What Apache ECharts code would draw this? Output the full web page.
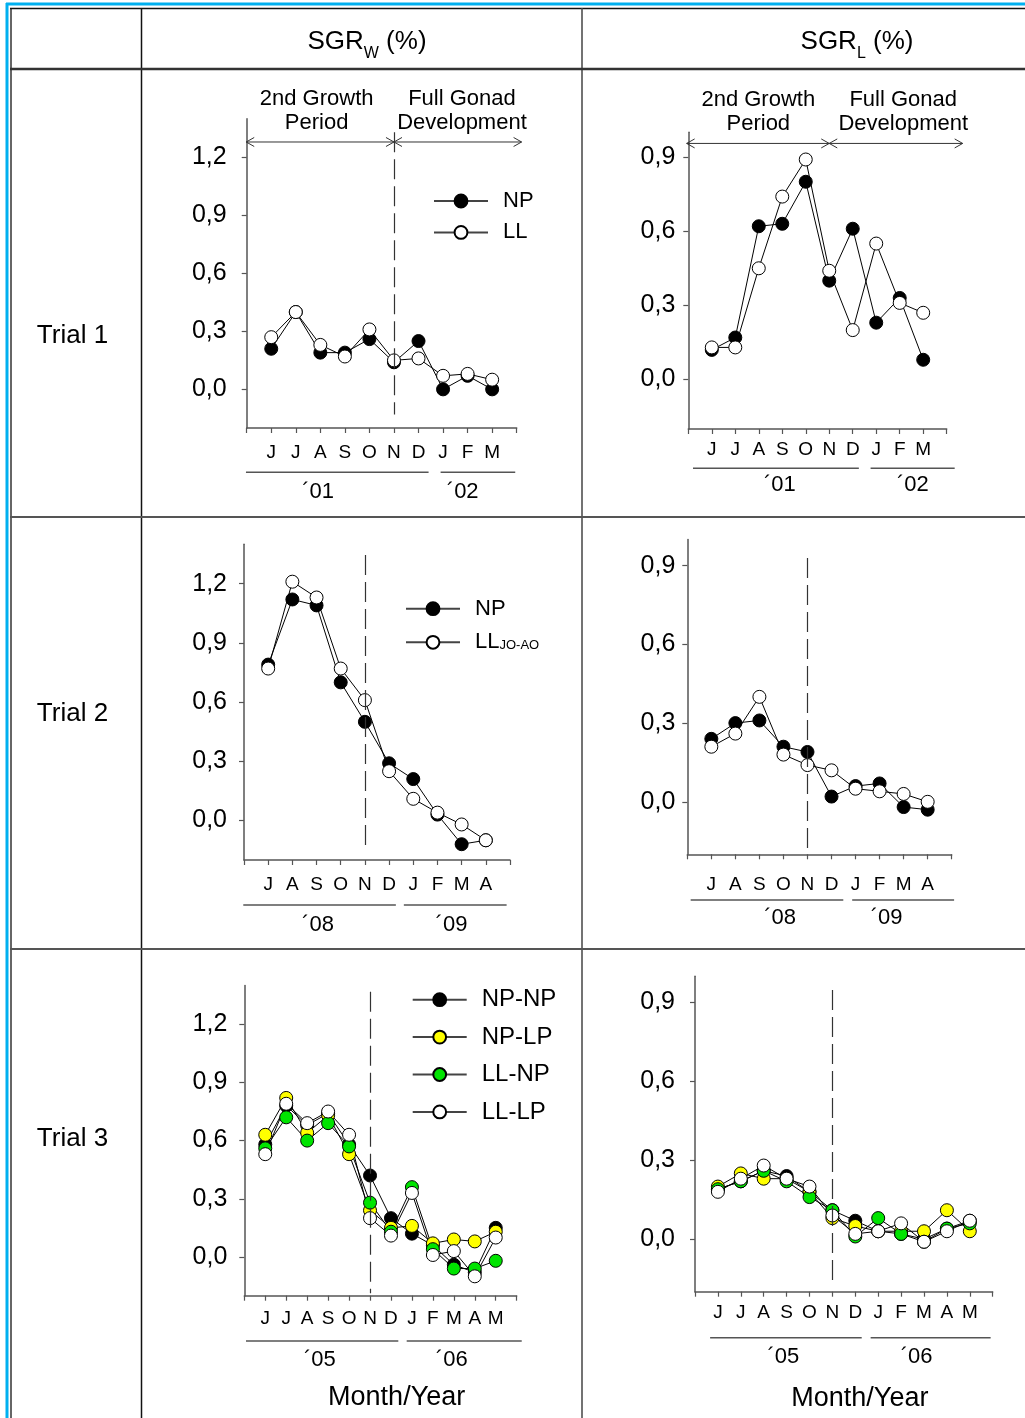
<!DOCTYPE html>
<html>
<head>
<meta charset="utf-8">
<script src="https://cdn.jsdelivr.net/npm/echarts@6/dist/echarts.min.js"></script>
<style>
html, body { margin: 0; padding: 0; background: #fff; }
#c { width: 1025px; height: 1418px; }
</style>
</head>
<body>
<div id="c"></div>
<script>
// Month letters along each trial's x axis
const monthsT1 = ['J', 'J', 'A', 'S', 'O', 'N', 'D', 'J', 'F', 'M'];
const monthsT2 = ['J', 'A', 'S', 'O', 'N', 'D', 'J', 'F', 'M', 'A'];
const monthsT3 = ['J', 'J', 'A', 'S', 'O', 'N', 'D', 'J', 'F', 'M', 'A', 'M'];

// Labelled y ticks
const yTicksW = [0, 0.3, 0.6, 0.9, 1.2];
const yTicksL = [0, 0.3, 0.6, 0.9];

// Trial 1 (2001-2002)
const t1wNP = [0.21, 0.40, 0.19, 0.19, 0.26, 0.14, 0.25, 0.00, 0.07, 0.00];
const t1wLL = [0.27, 0.40, 0.23, 0.17, 0.31, 0.15, 0.16, 0.07, 0.08, 0.05];
const t1lNP = [0.12, 0.17, 0.62, 0.63, 0.80, 0.40, 0.61, 0.23, 0.33, 0.08];
const t1lLL = [0.13, 0.13, 0.45, 0.74, 0.89, 0.44, 0.20, 0.55, 0.31, 0.27];

// Trial 2 (2008-2009)
const t2wNP = [0.79, 1.12, 1.09, 0.70, 0.50, 0.29, 0.21, 0.03, -0.12, -0.10];
const t2wLL = [0.77, 1.21, 1.13, 0.77, 0.61, 0.25, 0.11, 0.04, -0.02, -0.10];
const t2lNP = [0.24, 0.30, 0.31, 0.21, 0.19, 0.02, 0.06, 0.07, -0.02, -0.03];
const t2lLL = [0.21, 0.26, 0.40, 0.18, 0.14, 0.12, 0.05, 0.04, 0.03, 0.00];

// Trial 3 (2005-2006)
const t3wNPNP = [0.58, 0.78, 0.68, 0.74, 0.58, 0.42, 0.20, 0.12, 0.06, -0.04, -0.08, 0.15];
const t3wNPLP = [0.63, 0.82, 0.64, 0.73, 0.53, 0.24, 0.15, 0.16, 0.07, 0.09, 0.08, 0.13];
const t3wLLNP = [0.56, 0.72, 0.60, 0.69, 0.57, 0.28, 0.13, 0.36, 0.04, -0.06, -0.06, -0.02];
const t3wLLLP = [0.53, 0.79, 0.69, 0.75, 0.63, 0.20, 0.11, 0.33, 0.01, 0.03, -0.10, 0.10];
const t3lNPNP = [0.19, 0.22, 0.26, 0.24, 0.18, 0.11, 0.07, 0.03, 0.02, 0.00, 0.04, 0.07];
const t3lNPLP = [0.20, 0.25, 0.23, 0.23, 0.18, 0.08, 0.05, 0.03, 0.03, 0.03, 0.11, 0.03];
const t3lLLNP = [0.19, 0.22, 0.26, 0.22, 0.16, 0.11, 0.01, 0.08, 0.02, -0.01, 0.04, 0.06];
const t3lLLLP = [0.18, 0.23, 0.28, 0.23, 0.20, 0.09, 0.02, 0.03, 0.06, -0.01, 0.03, 0.07];

const FONT = '"Liberation Sans", Arial, sans-serif';
const AXIS = '#555';
const C_BLACK = '#000000', C_YELLOW = '#ffff00', C_GREEN = '#00e400', C_WHITE = '#ffffff';

// Panel layout: grid box, axis ranges and the annotations under/over each plot
const panels = [
  {
    grid: { left: 246.7, top: 118.8, width: 270, height: 309.2 },
    ymin: -0.2, ymax: 1.4, yticks: yTicksW, months: monthsT1, xmax: 11,
    yLabelMargin: 20, xLabelMargin: 15,
    series: [
      { name: 'NP', data: t1wNP, fill: C_BLACK },
      { name: 'LL', data: t1wLL, fill: C_WHITE }
    ],
    dash: { x: 6, y1: 1.33, y2: -0.13 },
    years: [{ text: '´01', from: -0.03, to: 7.41, at: 2.91 }, { text: '´02', from: 7.9, to: 10.94, at: 8.8 }],
    yearLineOff: 44.3, yearTextOff: 63.7,
    phases: { y: 1.28, x: [-0.02, 6, 11.2], leftAt: 2.85, rightAt: 8.77, rows: [99, 123] }
  },
  {
    grid: { left: 688.3, top: 132.3, width: 258.4, height: 296.7 },
    ymin: -0.2, ymax: 1.0, yticks: yTicksL, months: monthsT1, xmax: 11,
    yLabelMargin: 13, xLabelMargin: 11,
    series: [
      { name: 'NP', data: t1lNP, fill: C_BLACK },
      { name: 'LL', data: t1lLL, fill: C_WHITE }
    ],
    dash: { x: 6, y1: 1.02, y2: -0.19 },
    years: [{ text: '´01', from: 0.2, to: 7.26, at: 3.9 }, { text: '´02', from: 7.76, to: 11.34, at: 9.56 }],
    yearLineOff: 39.3, yearTextOff: 56,
    phases: { y: 0.955, x: [-0.07, 6, 11.68], leftAt: 2.98, rightAt: 9.15, rows: [100, 124] }
  },
  {
    grid: { left: 244, top: 544.2, width: 266, height: 315.8 },
    ymin: -0.2, ymax: 1.4, yticks: yTicksW, months: monthsT2, xmax: 11,
    yLabelMargin: 17, xLabelMargin: 15,
    series: [
      { name: 'NP', data: t2wNP, fill: C_BLACK },
      { name: 'LL_JO-AO', data: t2wLL, fill: C_WHITE }
    ],
    dash: { x: 5, y1: 1.345, y2: -0.132 },
    years: [{ text: '´08', from: -0.03, to: 6.28, at: 3.06 }, { text: '´09', from: 6.61, to: 10.86, at: 8.58 }],
    yearLineOff: 45, yearTextOff: 65
  },
  {
    grid: { left: 687.3, top: 539.4, width: 264.4, height: 314.9 },
    ymin: -0.2, ymax: 1.0, yticks: yTicksL, months: monthsT2, xmax: 11,
    yLabelMargin: 12, xLabelMargin: 21,
    series: [
      { name: 'NP', data: t2lNP, fill: C_BLACK },
      { name: 'LL_JO-AO', data: t2lLL, fill: C_WHITE }
    ],
    dash: { x: 5, y1: 0.929, y2: -0.176 },
    years: [{ text: '´08', from: 0.14, to: 6.49, at: 3.86 }, { text: '´09', from: 6.86, to: 11.1, at: 8.29 }],
    yearLineOff: 45.7, yearTextOff: 64
  },
  {
    grid: { left: 244.3, top: 985.5, width: 272.4, height: 310.2 },
    ymin: -0.2, ymax: 1.4, yticks: yTicksW, months: monthsT3, xmax: 13,
    yLabelMargin: 17, xLabelMargin: 14,
    series: [
      { name: 'NP-NP', data: t3wNPNP, fill: C_BLACK },
      { name: 'NP-LP', data: t3wNPLP, fill: C_YELLOW },
      { name: 'LL-NP', data: t3wLLNP, fill: C_GREEN },
      { name: 'LL-LP', data: t3wLLLP, fill: C_WHITE }
    ],
    dash: { x: 6, y1: 1.368, y2: -0.187 },
    years: [{ text: '´05', from: 0.08, to: 7.35, at: 3.61 }, { text: '´06', from: 7.75, to: 13.24, at: 9.9 }],
    yearLineOff: 45.3, yearTextOff: 64.3,
    footer: { at: 7.27, off: 102.3 }
  },
  {
    grid: { left: 695, top: 976.3, width: 297.7, height: 315.4 },
    ymin: -0.2, ymax: 1.0, yticks: yTicksL, months: monthsT3, xmax: 13,
    yLabelMargin: 20, xLabelMargin: 11.5,
    series: [
      { name: 'NP-NP', data: t3lNPNP, fill: C_BLACK },
      { name: 'NP-LP', data: t3lNPLP, fill: C_YELLOW },
      { name: 'LL-NP', data: t3lLLNP, fill: C_GREEN },
      { name: 'LL-LP', data: t3lLLLP, fill: C_WHITE }
    ],
    dash: { x: 6, y1: 0.948, y2: -0.156 },
    years: [{ text: '´05', from: 0.66, to: 7.28, at: 3.86 }, { text: '´06', from: 7.67, to: 12.91, at: 9.68 }],
    yearLineOff: 46, yearTextOff: 65,
    footer: { at: 7.2, off: 107 }
  }
];

const fmtTick = v => v.toFixed(1).replace('.', ',');

const grids = [], xAxes = [], yAxes = [], series = [];
panels.forEach((p, gi) => {
  grids.push(Object.assign({ outerBoundsMode: 'none', containLabel: false }, p.grid));
  xAxes.push({
    type: 'value', gridIndex: gi, min: 0, max: p.xmax, interval: 1,
    axisLine: { show: true, onZero: false, lineStyle: { color: AXIS, width: 1.5 } },
    axisTick: { show: true, length: 5, lineStyle: { color: AXIS, width: 1.2 } },
    axisLabel: {
      margin: p.xLabelMargin, fontSize: 19, color: '#000', fontFamily: FONT,
      formatter: v => p.months[v - 1] || ''
    },
    splitLine: { show: false }
  });
  yAxes.push({
    type: 'value', gridIndex: gi, min: p.ymin, max: p.ymax,
    axisLine: { show: true, onZero: false, lineStyle: { color: AXIS, width: 1.5 } },
    axisTick: { show: true, length: 5, customValues: p.yticks, lineStyle: { color: AXIS, width: 1.2 } },
    axisLabel: {
      customValues: p.yticks, margin: p.yLabelMargin, fontSize: 25, color: '#000',
      fontFamily: FONT, formatter: fmtTick
    },
    splitLine: { show: false }
  });
  p.series.forEach((s, si) => {
    const item = {
      type: 'line', name: s.name, xAxisIndex: gi, yAxisIndex: gi,
      data: s.data.map((v, i) => [i + 1, v]),
      symbol: 'circle', symbolSize: 13, showSymbol: true, clip: false,
      lineStyle: { color: '#000', width: 1 },
      itemStyle: { color: s.fill, borderColor: '#000', borderWidth: 1 },
      emphasis: { disabled: true },
      silent: true, animation: false
    };
    if (si === 0) {
      // dashed divider at November
      item.markLine = {
        silent: true, animation: false, symbol: ['none', 'none'],
        label: { show: false },
        lineStyle: { type: [20, 7], color: '#333', width: 1.2 },
        emphasis: { disabled: true },
        data: [[{ coord: [p.dash.x, p.dash.y1] }, { coord: [p.dash.x, p.dash.y2] }]]
      };
    }
    series.push(item);
  });
});

const makeLegend = (size, left, top, gap, names) => ({
  orient: 'vertical', left, top, itemGap: gap, padding: 0,
  itemWidth: 54, itemHeight: 16, selectedMode: false,
  lineStyle: { color: '#444' },
  data: names,
  textStyle: {
    fontSize: size, fontFamily: FONT, color: '#000',
    rich: {
      t: { fontSize: size, fontFamily: FONT, color: '#000', lineHeight: 20, padding: [0, 0, 0, 10] },
      s: { fontSize: 13, fontFamily: FONT, color: '#000', lineHeight: 14, padding: [6, 0, 0, 0], verticalAlign: 'bottom' }
    }
  },
  formatter: n => n === 'LL_JO-AO' ? '{t|LL}{s|JO-AO}' : '{t|' + n + '}'
});

const chart = echarts.init(document.getElementById('c'));
chart.setOption({
  animation: false,
  backgroundColor: '#fff',
  grid: grids,
  xAxis: xAxes,
  yAxis: yAxes,
  legend: [
    makeLegend(22, 433, 190, 9.4, ['NP', 'LL']),
    makeLegend(22, 405, 597.7, 11.6, ['NP', 'LL_JO-AO']),
    makeLegend(24, 411.7, 987.7, 13.4, ['NP-NP', 'NP-LP', 'LL-NP', 'LL-LP'])
  ],
  series: series
});

// ---- table frame, headings and per-panel annotations ----
const g = [];
const line = (x1, y1, x2, y2, stroke, w) => g.push({
  type: 'line', silent: true, z: 10,
  shape: { x1, y1, x2, y2 }, style: { stroke, lineWidth: w }
});
const text = (x, y, str, size, align, extra) => g.push({
  type: 'text', silent: true, z: 10, x, y,
  style: Object.assign({ text: str, fontSize: size, fontFamily: FONT, fill: '#000', align: align || 'center', verticalAlign: 'middle' }, extra || {})
});

// outer frame
line(6, 4, 1025, 4, '#00b0f0', 3);
line(7, 3, 7, 1418, '#00b0f0', 3);
line(11, 8, 11, 1418, '#666', 2);
line(10, 8.5, 1025, 8.5, '#111', 1.5);
line(141.5, 8, 141.5, 1418, '#111', 1.5);
line(582, 8, 582, 1418, '#444', 1.5);
line(10, 69, 1025, 69, '#333', 2.5);
line(10, 517, 1025, 517, '#555', 2);
line(10, 949, 1025, 949, '#555', 2);

// column headings
const headRich = {
  m: { fontSize: 26, fontFamily: FONT, color: '#000', lineHeight: 40 },
  s: { fontSize: 16, fontFamily: FONT, color: '#000', lineHeight: 16, verticalAlign: 'bottom' }
};
g.push({ type: 'text', silent: true, z: 10, x: 367, y: 42,
  style: { text: '{m|SGR}{s|W}{m| (%)}', rich: headRich, align: 'center', verticalAlign: 'middle' } });
g.push({ type: 'text', silent: true, z: 10, x: 857, y: 42,
  style: { text: '{m|SGR}{s|L}{m| (%)}', rich: headRich, align: 'center', verticalAlign: 'middle' } });

// row headings
text(72.5, 336, 'Trial 1', 26);
text(72.5, 714, 'Trial 2', 26);
text(72.5, 1139, 'Trial 3', 26);

const px = (gi, x, y) => chart.convertToPixel({ gridIndex: gi }, [x, y]);
const arrowHead = (x, y, dir) => g.push({
  type: 'polyline', silent: true, z: 10,
  shape: { points: [[x - dir * 8, y - 4.5], [x, y], [x - dir * 8, y + 4.5]] },
  style: { stroke: '#333', lineWidth: 1, fill: null }
});

panels.forEach((p, gi) => {
  const axisY = p.grid.top + p.grid.height;
  // year brackets and labels
  p.years.forEach(yr => {
    const a = px(gi, yr.from, 0)[0], b = px(gi, yr.to, 0)[0], c = px(gi, yr.at, 0)[0];
    line(a, axisY + p.yearLineOff, b, axisY + p.yearLineOff, '#555', 1.5);
    text(c, axisY + p.yearTextOff, yr.text, 22);
  });
  // growth phase arrows
  if (p.phases) {
    const ph = p.phases;
    const a = px(gi, ph.x[0], ph.y), m = px(gi, ph.x[1], ph.y), b = px(gi, ph.x[2], ph.y);
    line(a[0], a[1], m[0], m[1], '#333', 1);
    line(m[0], m[1], b[0], b[1], '#333', 1);
    arrowHead(a[0], a[1], -1);
    arrowHead(m[0], m[1], 1);
    arrowHead(m[0], m[1], -1);
    arrowHead(b[0], b[1], 1);
    const l = px(gi, ph.leftAt, 0)[0], r = px(gi, ph.rightAt, 0)[0];
    text(l, ph.rows[0], '2nd Growth', 22);
    text(l, ph.rows[1], 'Period', 22);
    text(r, ph.rows[0], 'Full Gonad', 22);
    text(r, ph.rows[1], 'Development', 22);
  }
  if (p.footer) {
    text(px(gi, p.footer.at, 0)[0], axisY + p.footer.off, 'Month/Year', 27);
  }
});

chart.setOption({ graphic: g });
</script>
</body>
</html>
